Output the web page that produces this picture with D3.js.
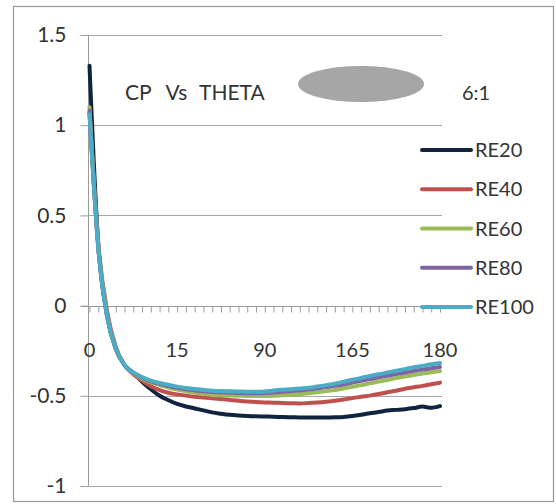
<!DOCTYPE html>
<html>
<head>
<meta charset="utf-8">
<script src="https://cdn.jsdelivr.net/npm/d3@7"></script>
<style>
  html, body { margin: 0; padding: 0; background: #fff; }
  svg { display: block; font-family: Lato, "Open Sans", sans-serif; }
</style>
</head>
<body>
<svg id="chart" width="556" height="504"></svg>
<script>
// Surface angle (degrees): fine steps near both edges, coarse in the middle
const theta = [0, 1.5, 3, 4.5, 6, 7.5, 9, 10.5, 12, 13.5, 15,
  22.5, 30, 37.5, 45, 52.5, 60, 67.5, 75, 82.5, 90,
  97.5, 105, 112.5, 120, 127.5, 135, 142.5, 150, 157.5, 165,
  166.5, 168, 169.5, 171, 172.5, 174, 175.5, 177, 178.5, 180];

// Pressure coefficient per Reynolds number
const re20 = [1.33, 0.34, -0.05, -0.24, -0.33, -0.373, -0.422, -0.464, -0.50, -0.524, -0.545,
  -0.559, -0.57, -0.581, -0.592, -0.599, -0.605, -0.609, -0.612, -0.614, -0.615,
  -0.616, -0.618, -0.619, -0.62, -0.62, -0.62, -0.62, -0.619, -0.617, -0.612,
  -0.605, -0.597, -0.59, -0.582, -0.578, -0.574, -0.568, -0.56, -0.566, -0.557];
const re40 = [1.07, 0.34, -0.03, -0.23, -0.33, -0.38, -0.415, -0.447, -0.468, -0.483, -0.492,
  -0.499, -0.505, -0.509, -0.513, -0.518, -0.523, -0.528, -0.532, -0.535, -0.537,
  -0.538, -0.54, -0.541, -0.542, -0.54, -0.537, -0.533, -0.528, -0.521, -0.513,
  -0.505, -0.499, -0.49, -0.48, -0.472, -0.461, -0.453, -0.445, -0.436, -0.427];
const re60 = [1.10, 0.33, -0.05, -0.24, -0.33, -0.375, -0.405, -0.425, -0.44, -0.455, -0.466,
  -0.475, -0.482, -0.489, -0.495, -0.497, -0.499, -0.5, -0.501, -0.501, -0.501,
  -0.5, -0.497, -0.494, -0.491, -0.486, -0.48, -0.474, -0.468, -0.46, -0.45,
  -0.441, -0.431, -0.421, -0.412, -0.402, -0.393, -0.385, -0.377, -0.37, -0.363];
const re80 = [1.08, 0.32, -0.06, -0.24, -0.33, -0.372, -0.4, -0.42, -0.434, -0.446, -0.456,
  -0.464, -0.47, -0.475, -0.479, -0.481, -0.483, -0.485, -0.486, -0.486, -0.485,
  -0.482, -0.478, -0.474, -0.47, -0.465, -0.459, -0.452, -0.445, -0.437, -0.427,
  -0.417, -0.407, -0.398, -0.389, -0.38, -0.371, -0.363, -0.355, -0.347, -0.34];
const re100 = [1.06, 0.32, -0.06, -0.24, -0.33, -0.37, -0.396, -0.416, -0.429, -0.439, -0.449,
  -0.457, -0.462, -0.467, -0.472, -0.474, -0.475, -0.476, -0.477, -0.477, -0.476,
  -0.471, -0.467, -0.464, -0.46, -0.456, -0.449, -0.441, -0.433, -0.422, -0.411,
  -0.401, -0.39, -0.381, -0.371, -0.361, -0.352, -0.342, -0.334, -0.325, -0.318];

const seriesNames = ["RE20", "RE40", "RE60", "RE80", "RE100"];
const seriesValues = [re20, re40, re60, re80, re100];
const seriesColors = ["#10243f", "#c0504d", "#9bbb59", "#8064a2", "#4bacc6"];

const xLabelTicks = [0, 15, 90, 165, 180];
const yTicks = [-1, -0.5, 0, 0.5, 1, 1.5];

const titleText = ["CP", "Vs", "THETA"];
const ratioText = "6:1";

const svg = d3.select("#chart");

// Outer chart frame
svg.append("rect")
  .attr("x", 13.5).attr("y", 6.5)
  .attr("width", 540).attr("height", 495)
  .attr("fill", "#fff")
  .attr("stroke", "#9a9a9a").attr("stroke-width", 1.2);

const plot = { left: 88.5, right: 442, top: 35, bottom: 486 };
const firstX = 89.5, lastX = 440;

// Category-style axis: labelled angles are evenly spaced along the axis
const x = d3.scaleLinear()
  .domain(xLabelTicks)
  .range(xLabelTicks.map((d, i) => firstX + i * (lastX - firstX) / (xLabelTicks.length - 1)));
const y = d3.scaleLinear().domain([-1, 1.5]).range([plot.bottom, plot.top]);

// Horizontal gridlines
svg.append("g").selectAll("line").data(yTicks).join("line")
  .attr("x1", plot.left).attr("x2", plot.right)
  .attr("y1", d => Math.round(y(d)) + 0.5).attr("y2", d => Math.round(y(d)) + 0.5)
  .attr("stroke", "#a6a6a6").attr("stroke-width", 1);

// Value axis
const yAxis = svg.append("g")
  .attr("transform", `translate(${plot.left},0)`)
  .call(d3.axisLeft(y).tickValues(yTicks).tickSize(8).tickPadding(14)
    .tickFormat(d => String(d)));
yAxis.select(".domain").attr("stroke", "#9a9a9a").attr("d", `M0,${plot.top}V${plot.bottom}`);
yAxis.selectAll(".tick line").attr("stroke", "#9a9a9a");
yAxis.selectAll(".tick text")
  .attr("font-size", 21).attr("fill", "#333").attr("font-family", "Lato, 'Open Sans', sans-serif");

// Angle axis crossing at CP = 0, with a tick at every sampled angle
const xAxis = svg.append("g")
  .attr("transform", `translate(0,${Math.round(y(0)) + 0.5})`)
  .call(d3.axisBottom(x).tickValues(theta).tickSize(6).tickFormat(""));
xAxis.select(".domain").attr("stroke", "#9a9a9a").attr("d", `M${plot.left - 8},0H${plot.right}`);
xAxis.selectAll(".tick line").attr("stroke", "#9a9a9a");

// Angle labels
svg.append("g").selectAll("text").data(xLabelTicks).join("text")
  .attr("x", d => x(d)).attr("y", 357)
  .attr("text-anchor", "middle")
  .attr("font-size", 20).attr("fill", "#333")
  .text(d => String(d));

// Title, body outline and aspect ratio
const title = svg.append("text").attr("x", 125).attr("y", 100)
  .attr("font-size", 21).attr("fill", "#333");
titleText.forEach((t, i) => title.append("tspan").attr("dx", i ? 14 : 0).text(t));
svg.append("ellipse")
  .attr("cx", 361).attr("cy", 84).attr("rx", 63).attr("ry", 18)
  .attr("fill", "#a6a6a6");
svg.append("text").attr("x", 462).attr("y", 100)
  .attr("font-size", 20).attr("fill", "#333").text(ratioText);

// Series lines
const line = d3.line()
  .x((d, i) => x(theta[i]))
  .y(d => y(d))
  .curve(d3.curveMonotoneX);

svg.append("g").selectAll("path").data(seriesValues).join("path")
  .attr("d", d => line(d))
  .attr("fill", "none")
  .attr("stroke", (d, i) => seriesColors[i])
  .attr("stroke-width", 4)
  .attr("stroke-linejoin", "round")
  .attr("stroke-linecap", "round");

// Legend
const legendY = d3.scaleLinear().domain([0, seriesNames.length - 1]).range([150, 307]);
const legend = svg.append("g").selectAll("g").data(seriesNames).join("g")
  .attr("transform", (d, i) => `translate(0,${legendY(i)})`);
legend.append("line")
  .attr("x1", 422).attr("x2", 471)
  .attr("stroke", (d, i) => seriesColors[i])
  .attr("stroke-width", 4).attr("stroke-linecap", "round");
legend.append("text")
  .attr("x", 475).attr("y", 0).attr("dy", "0.35em")
  .attr("font-size", 20).attr("fill", "#333")
  .text(d => d);
</script>
</body>
</html>
